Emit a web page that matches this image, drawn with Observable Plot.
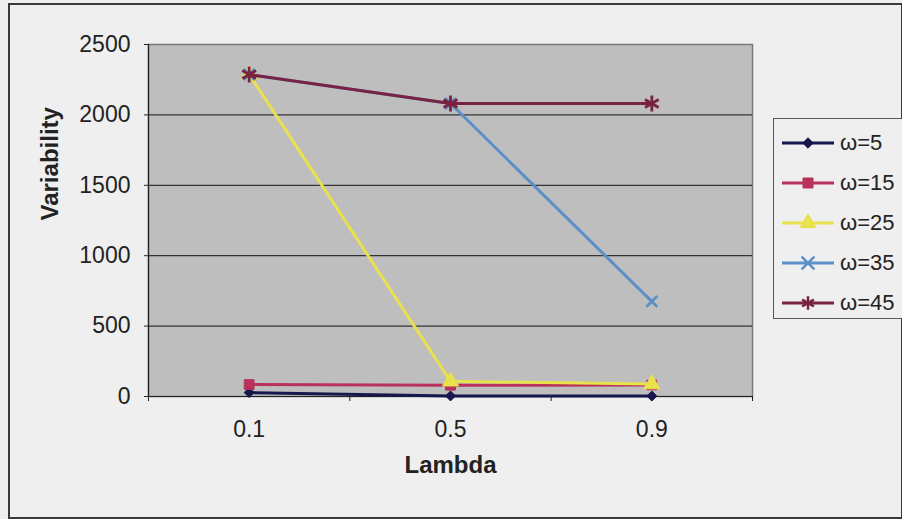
<!DOCTYPE html>
<html>
<head>
<meta charset="utf-8">
<script src="https://cdn.jsdelivr.net/npm/d3@7"></script>
<script src="https://cdn.jsdelivr.net/npm/@observablehq/plot@0.6"></script>
<style>
  body { margin: 0; background: #efefef; }
  #chart { position: relative; width: 902px; height: 519px; font-family: "Liberation Sans", Arial, sans-serif; overflow: hidden; }
  #chart svg.plot { position: absolute; left: 0; top: 0; }
  #border { position: absolute; left: 8px; top: 3px; width: 891px; height: 512px; border: 2px solid #3a3a3a; pointer-events: none; }
  #legend { position: absolute; left: 773px; top: 118px; width: 140px; height: 199px; border: 1px solid #555; background: #efefef; }
  #legend .item { position: absolute; left: 0; height: 30px; display: flex; align-items: center; }
  #legend .item span { font-size: 22px; color: #222; margin-left: 4px; }
</style>
</head>
<body>
<div id="chart"><div id="border"></div></div>
<script>
// Lambda categories along the x axis
const lambdas = ["0.1", "0.5", "0.9"];

// Variability per window size ω, one value per lambda
const seriesNames = ["ω=5", "ω=15", "ω=25", "ω=35", "ω=45"];
const omega5  = [28, 4, 3];
const omega15 = [85, 80, 82];
const omega25 = [2287, 108, 88];
const omega35 = [2287, 2081, 675];
const omega45 = [2287, 2081, 2081];
const yTicks = [0, 500, 1000, 1500, 2000, 2500];

const seriesValues = [omega5, omega15, omega25, omega35, omega45];
const seriesColors = ["#17174e", "#b8325c", "#e8e24c", "#5b8fc8", "#7a2242"];
const seriesSymbols = ["diamond2", "square", "triangle", "times", "asterisk"];
const symbolFilled = [true, true, true, false, false];
const symbolRadius = [4.5, 5.5, 6, 5, 7.5];

const rows = seriesNames.flatMap((name, s) =>
  seriesValues[s].map((v, i) => ({ series: name, i, lambda: lambdas[i], value: v }))
);

const seriesMarks = seriesNames.flatMap((name, s) => {
  const data = rows.filter(d => d.series === name);
  const color = seriesColors[s];
  return [
    Plot.line(data, { x: "i", y: "value", stroke: color, strokeWidth: 3 }),
    Plot.dot(data, {
      x: "i", y: "value", symbol: seriesSymbols[s], r: symbolRadius[s],
      fill: symbolFilled[s] ? color : "none",
      stroke: color, strokeWidth: symbolFilled[s] ? 1 : 2.8
    })
  ];
});

const chart = Plot.plot({
  width: 902,
  height: 519,
  marginLeft: 148,
  marginRight: 150,
  marginTop: 44,
  marginBottom: 123,
  x: { domain: [-0.5, 2.5] },
  y: { domain: [0, 2500] },
  style: { background: "transparent", fontFamily: "Liberation Sans, Arial, sans-serif", color: "#222" },
  marks: [
    Plot.frame({ fill: "#bebebe", stroke: "#7a7a7a", strokeWidth: 1.5 }),
    Plot.ruleY(yTicks.slice(1, -1), { stroke: "#333", strokeWidth: 1.2 }),
    Plot.ruleY([0], { stroke: "#222", strokeWidth: 1.2 }),
    Plot.ruleX([-0.5], { stroke: "#222", strokeWidth: 1.2 }),
    Plot.axisY({ ticks: yTicks, tickSize: 4, tickPadding: 14, fontSize: 23, tickFormat: d => String(d), label: null }),
    Plot.axisX({ ticks: [-0.5, 0.5, 1.5, 2.5], tickSize: 5, tickFormat: () => "", label: null }),
    Plot.axisX({ ticks: [0, 1, 2], tickSize: 0, tickPadding: 24, tickFormat: i => lambdas[i], fontSize: 23, label: null }),
    Plot.text(["Variability"], { text: d => d, frameAnchor: "left", dx: -98, rotate: -90, fontSize: 24, fontWeight: "bold" }),
    Plot.text(["Lambda"], { text: d => d, frameAnchor: "bottom", dy: 76, fontSize: 24, fontWeight: "bold" }),
    ...seriesMarks
  ]
});

const container = document.getElementById("chart");
container.insertBefore(chart, container.firstChild);

// Legend box on the right
const legend = document.createElement("div");
legend.id = "legend";
const legendSymbols = [d3.symbolDiamond2, d3.symbolSquare, d3.symbolTriangle, d3.symbolTimes, d3.symbolAsterisk];
const legendSizes = [70, 100, 110, 110, 130];
seriesNames.forEach((name, s) => {
  const item = document.createElement("div");
  item.className = "item";
  item.style.top = (9 + s * 40) + "px";
  const svg = d3.create("svg").attr("width", 62).attr("height", 30);
  svg.append("line").attr("x1", 8).attr("x2", 60).attr("y1", 15).attr("y2", 15)
    .attr("stroke", seriesColors[s]).attr("stroke-width", 3);
  svg.append("path").attr("transform", "translate(34,15)")
    .attr("d", d3.symbol(legendSymbols[s], legendSizes[s])())
    .attr("fill", symbolFilled[s] ? seriesColors[s] : "none")
    .attr("stroke", seriesColors[s]).attr("stroke-width", symbolFilled[s] ? 1 : 2.5);
  item.appendChild(svg.node());
  const label = document.createElement("span");
  label.textContent = name;
  item.appendChild(label);
  legend.appendChild(item);
});
container.appendChild(legend);
</script>
</body>
</html>
